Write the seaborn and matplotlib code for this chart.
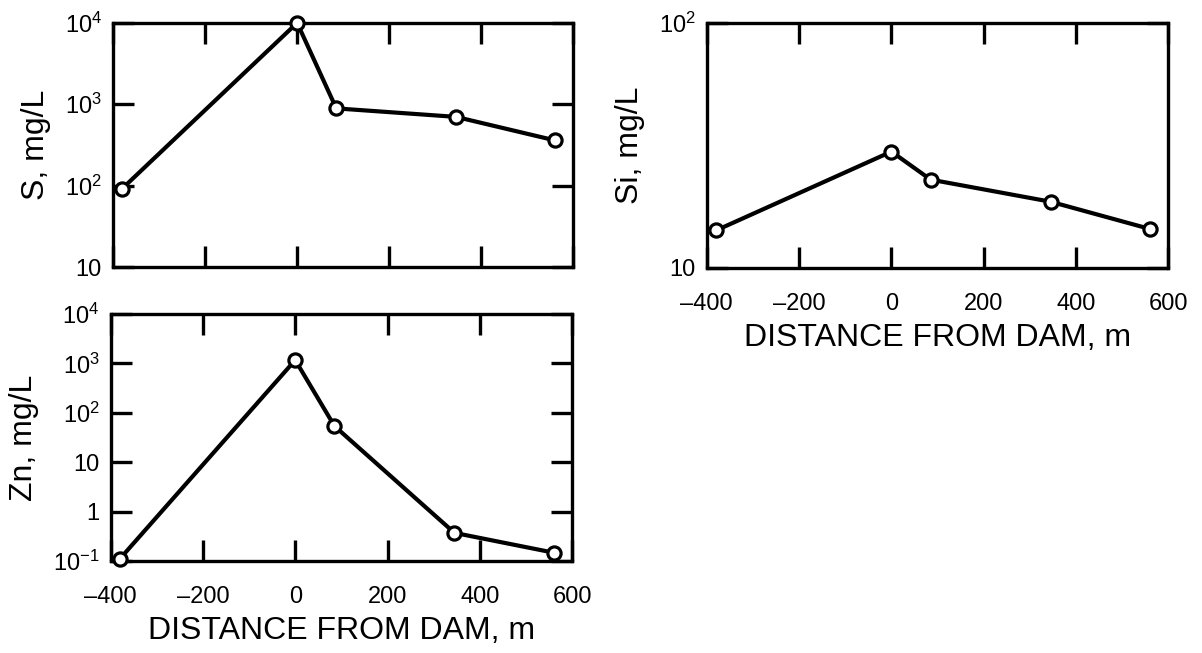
import matplotlib
matplotlib.use("Agg")
import matplotlib.pyplot as plt
from matplotlib.ticker import NullLocator, FixedLocator
import seaborn as sns

# distance from dam (m), same stations for all three constituents
distance = [-380, 0, 85, 345, 560]
s_conc = [92, 10000, 890, 700, 360]
zn_conc = [0.11, 1170, 54, 0.37, 0.147]
si_conc = [14.2, 29.8, 22.9, 18.6, 14.4]

x_ticks = [-400, -200, 0, 200, 400, 600]
x_ticklabels = ["\u2013400", "\u2013200", "0", "200", "400", "600"]

s_ticks = [10, 100, 1000, 10000]
s_ticklabels = ["10", "$10^2$", "$10^3$", "$10^4$"]
zn_ticks = [0.1, 1, 10, 100, 1000, 10000]
zn_ticklabels = ["$10^{-1}$", "1", "10", "$10^2$", "$10^3$", "$10^4$"]
si_ticks = [10, 100]
si_ticklabels = ["10", "$10^2$"]

sns.set_style("ticks")
plt.rcParams["font.family"] = ["Liberation Sans", "DejaVu Sans"]
plt.rcParams["mathtext.fontset"] = "custom"
plt.rcParams["mathtext.rm"] = "Liberation Sans"
plt.rcParams["mathtext.it"] = "Liberation Sans"
plt.rcParams["mathtext.default"] = "regular"
for key in ["text.color", "axes.labelcolor", "xtick.color", "ytick.color",
            "axes.edgecolor"]:
    plt.rcParams[key] = "black"

fig = plt.figure(figsize=(12.02, 6.53), dpi=100)
ax_s = fig.add_axes([0.094, 0.591, 0.383, 0.374])
ax_zn = fig.add_axes([0.092, 0.141, 0.384, 0.378])
ax_si = fig.add_axes([0.588, 0.590, 0.384, 0.375])


def draw(ax, y, yticks, yticklabels, ylabel, show_x):
    sns.lineplot(x=distance, y=y, ax=ax, color="black", linewidth=3.0,
                 marker="o", markersize=9.5, markerfacecolor="white",
                 markeredgecolor="black", markeredgewidth=2.3, clip_on=False,
                 zorder=5)
    ax.set_yscale("log")
    ax.set_xlim(-400, 600)
    ax.set_ylim(yticks[0], yticks[-1])
    ax.xaxis.set_major_locator(FixedLocator(x_ticks))
    ax.yaxis.set_major_locator(FixedLocator(yticks))
    ax.yaxis.set_minor_locator(NullLocator())
    ax.xaxis.set_minor_locator(NullLocator())
    ax.set_yticklabels(yticklabels)
    if show_x:
        ax.set_xticklabels(x_ticklabels)
        ax.set_xlabel("DISTANCE FROM DAM, m", fontsize=23, labelpad=6)
    else:
        ax.set_xticklabels([])
    ax.set_ylabel(ylabel, fontsize=23, labelpad=10)
    ax.tick_params(direction="in", length=15, width=2.4, labelsize=17,
                   top=True, right=True)
    ax.tick_params(axis="x", pad=18)
    ax.tick_params(axis="y", pad=8)
    for sp in ax.spines.values():
        sp.set_visible(True)
        sp.set_linewidth(2.4)


draw(ax_s, s_conc, s_ticks, s_ticklabels, "S, mg/L", False)
draw(ax_zn, zn_conc, zn_ticks, zn_ticklabels, "Zn, mg/L", True)
draw(ax_si, si_conc, si_ticks, si_ticklabels, "Si, mg/L", True)

fig.savefig("out.png", dpi=100, facecolor="white")
